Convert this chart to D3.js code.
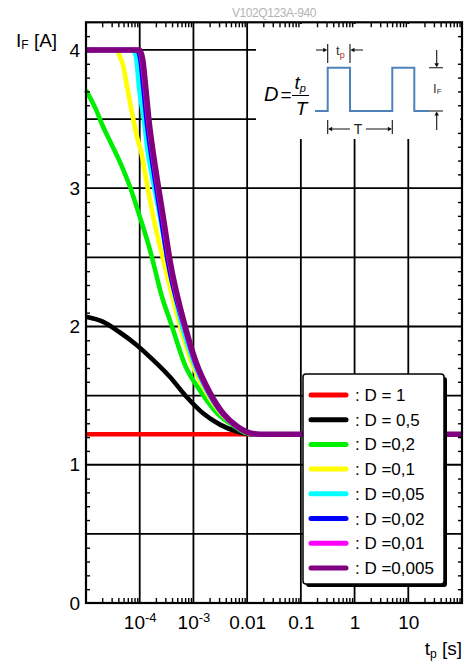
<!DOCTYPE html>
<html><head><meta charset="utf-8">
<script src="https://cdn.jsdelivr.net/npm/d3@7/dist/d3.min.js"></script>
<style>
body{margin:0;background:#fff}
svg{display:block}
text{font-family:"Liberation Sans",Arial,Helvetica,sans-serif}
</style>
</head><body>
<svg id="c" width="474" height="669"></svg>
<script>
// ---------------- data ----------------
const seriesLabels = [": D = 1", ": D = 0,5", ": D =0,2", ": D =0,1", ": D =0,05", ": D =0,02", ": D =0,01", ": D =0,005"];
const seriesColors = ["#ff0000", "#000000", "#00ee00", "#ffff00", "#00ffff", "#0000ff", "#ff00ff", "#800080"];

const tp_D1 = [1e-5, 100];
const if_D1 = [1.22, 1.22];

const tp_D05 = [1e-5, 2.05e-5, 4.17e-5, 8.53e-5, 1.75e-4, 3.56e-4, 7.5e-4, 1.53e-3, 3.13e-3, 6.4e-3, 9.84e-3, 1.74e-2, 100];
const if_D05 = [2.07, 2.035, 1.96, 1.87, 1.76, 1.64, 1.49, 1.37, 1.29, 1.24, 1.225, 1.22, 1.22];

const tp_D02 = [1e-5, 1.53e-5, 2.05e-5, 2.72e-5, 4.17e-5, 6.59e-5, 1.01e-4, 1.56e-4, 1.93e-4, 2.49e-4, 3.99e-4, 6.98e-4, 1.42e-3, 2.81e-3, 5.7e-3, 9.55e-3, 1.74e-2, 100];
const if_D02 = [3.71, 3.57, 3.45, 3.35, 3.20, 3.01, 2.79, 2.55, 2.41, 2.24, 2.00, 1.72, 1.52, 1.37, 1.28, 1.23, 1.22, 1.22];

const tp_D01 = [1e-5, 3.78e-5, 4.17e-5, 4.82e-5, 5.98e-5, 7.41e-5, 9.18e-5, 1.04e-4, 1.35e-4, 1.79e-4, 2.75e-4, 5.87e-4, 9.42e-4, 1.75e-3, 3.27e-3, 6.08e-3, 1.04e-2, 1.74e-2, 100];
const if_D01 = [4, 4, 3.96, 3.90, 3.71, 3.52, 3.35, 3.28, 3.04, 2.79, 2.48, 1.98, 1.73, 1.52, 1.37, 1.28, 1.23, 1.22, 1.22];

const tp_D005 = [1e-5, 7.5e-5, 8.53e-5, 9.84e-5, 1.22e-4, 1.39e-4, 1.79e-4, 2.39e-4, 3.32e-4, 6.4e-4, 1.03e-3, 1.87e-3, 3.41e-3, 6.21e-3, 1.08e-2, 1.74e-2, 100];
const if_D005 = [4, 4, 3.95, 3.71, 3.47, 3.28, 3.04, 2.79, 2.48, 1.98, 1.73, 1.52, 1.37, 1.28, 1.23, 1.22, 1.22];

const tp_D002 = [1e-5, 8.9e-5, 1.03e-4, 1.18e-4, 1.36e-4, 1.58e-4, 1.96e-4, 2.48e-4, 3.3e-4, 6.97e-4, 1.10e-3, 1.95e-3, 3.45e-3, 6.13e-3, 1.09e-2, 1.74e-2, 100];
const if_D002 = [4, 4, 3.93, 3.71, 3.47, 3.28, 3.04, 2.79, 2.48, 1.98, 1.73, 1.52, 1.37, 1.28, 1.23, 1.22, 1.22];

const tp_D001 = [1e-5, 9.6e-5, 1.09e-4, 1.26e-4, 1.45e-4, 1.68e-4, 2.08e-4, 2.64e-4, 3.51e-4, 6.99e-4, 1.10e-3, 1.96e-3, 3.47e-3, 6.14e-3, 1.08e-2, 1.74e-2, 100];
const if_D001 = [4, 4, 3.93, 3.71, 3.47, 3.28, 3.04, 2.79, 2.48, 1.98, 1.73, 1.52, 1.37, 1.28, 1.23, 1.22, 1.22];

const tp_D0005 = [1e-5, 1e-4, 1.14e-4, 1.31e-4, 1.51e-4, 1.75e-4, 2.17e-4, 2.75e-4, 3.66e-4, 7.28e-4, 1.15e-3, 2.04e-3, 3.61e-3, 6.4e-3, 1.13e-2, 1.74e-2, 100];
const if_D0005 = [4, 4, 3.93, 3.71, 3.47, 3.28, 3.04, 2.79, 2.48, 1.98, 1.73, 1.52, 1.37, 1.28, 1.23, 1.22, 1.22];

const xMajorTicks = [1e-4, 1e-3, 1e-2, 0.1, 1, 10];
const xTickLabels = [["10", "-4"], ["10", "-3"], ["0.01", ""], ["0.1", ""], ["1", ""], ["10", ""]];
const yLabelTicks = [0, 1, 2, 3, 4];
const yGridTicks = [0.5, 1, 1.5, 2, 2.5, 3, 3.5, 4];

// ---------------- layout ----------------
const L = 86, R = 462, T = 22.3, B = 603;
const svg = d3.select("#c");
const x = d3.scaleLog().domain([1e-5, 100]).range([L, R]);
const y = d3.scaleLinear().domain([0, 4.2]).range([B, T]);

const series = [
  [tp_D1, if_D1], [tp_D05, if_D05], [tp_D02, if_D02], [tp_D01, if_D01],
  [tp_D005, if_D005], [tp_D002, if_D002], [tp_D001, if_D001], [tp_D0005, if_D0005]
].map((s, i) => ({label: seriesLabels[i], color: seriesColors[i], pts: s[0].map((t, j) => [t, s[1][j]])}));

// title
svg.append("text").attr("x", 274).attr("y", 17).attr("text-anchor", "middle")
  .attr("font-size", 12).attr("fill", "#b4b4b4").attr("letter-spacing", -0.4).text("V102Q123A-940");

// gridlines
const minorX = [];
for (let e = -5; e < 2; e++) for (let k = 2; k <= 9; k++) minorX.push(k * Math.pow(10, e));
const minorY = d3.range(1, 42).map(v => v / 10).filter(v => Math.abs(v * 2 - Math.round(v * 2)) > 1e-6);

const grid = svg.append("g").attr("stroke", "#000").attr("stroke-width", 1.8);
grid.selectAll("line.v").data(xMajorTicks).join("line").attr("class", "v")
  .attr("x1", d => x(d)).attr("x2", d => x(d)).attr("y1", T).attr("y2", B);
grid.selectAll("line.h").data(yGridTicks).join("line").attr("class", "h")
  .attr("x1", L).attr("x2", R).attr("y1", d => y(d)).attr("y2", d => y(d));

// inset (pulse diagram)
const ins = svg.append("g");
ins.append("rect").attr("x", 256).attr("y", 24).attr("width", 204).attr("height", 115).attr("fill", "#fff");
ins.append("path").attr("fill", "none").attr("stroke", "#4f81bd").attr("stroke-width", 2)
  .attr("d", "M315,111H327.7V67.7H350V111H392.3V67.7H414.3V111H429");
const ann = ins.append("g").attr("stroke", "#111").attr("stroke-width", 1.1).attr("fill", "none");
const arrowHead = (xx, yy, dir) => {
  const s = 4, w = 2.3;
  let p;
  if (dir === 'r') p = `M${xx},${yy}L${xx - s},${yy - w}L${xx - s},${yy + w}Z`;
  if (dir === 'l') p = `M${xx},${yy}L${xx + s},${yy - w}L${xx + s},${yy + w}Z`;
  if (dir === 'd') p = `M${xx},${yy}L${xx - w},${yy - s}L${xx + w},${yy - s}Z`;
  if (dir === 'u') p = `M${xx},${yy}L${xx - w},${yy + s}L${xx + w},${yy + s}Z`;
  ins.append("path").attr("d", p).attr("fill", "#111");
};
// tp annotation
ann.append("path").attr("d", "M327.7,44V63M350,44V63M316,50H326M352,50H363");
arrowHead(327.2, 50, 'r'); arrowHead(350.5, 50, 'l');
const tpT = ins.append("text").attr("x", 336).attr("y", 55).attr("font-size", 13).attr("fill", "#333");
tpT.append("tspan").text("t");
tpT.append("tspan").attr("font-size", 9).attr("dy", 3).attr("fill", "#a33").text("p");
// T annotation
ann.append("path").attr("d", "M327.7,120V134M392.3,120V134M329,129H350M366,129H391");
arrowHead(328.2, 129, 'l'); arrowHead(391.8, 129, 'r');
ins.append("text").attr("x", 358).attr("y", 134).attr("text-anchor", "middle").attr("font-size", 14).attr("fill", "#222").text("T");
// IF annotation
ann.append("path").attr("d", "M429,67.7H443M429,111H443M436.7,50V66M436.7,113V130");
arrowHead(436.7, 67.2, 'd'); arrowHead(436.7, 111.5, 'u');
const ifT = ins.append("text").attr("x", 433).attr("y", 93).attr("font-size", 13).attr("fill", "#333");
ifT.append("tspan").text("I");
ifT.append("tspan").attr("font-size", 8).attr("dy", 1).text("F");
// formula
const serif = "'Liberation Serif','Times New Roman',serif";
ins.append("text").attr("x", 264).attr("y", 101).attr("font-family", serif).attr("font-style", "italic").attr("font-size", 20).text("D");
ins.append("text").attr("x", 280.5).attr("y", 101).attr("font-family", serif).attr("font-size", 19).text("=");
ins.append("line").attr("x1", 292).attr("x2", 309).attr("y1", 95.5).attr("y2", 95.5).attr("stroke", "#000").attr("stroke-width", 1);
const num = ins.append("text").attr("x", 294.5).attr("y", 89).attr("font-family", serif).attr("font-style", "italic").attr("font-size", 19);
num.append("tspan").text("t");
num.append("tspan").attr("font-size", 11).attr("dy", 3).text("p");
ins.append("text").attr("x", 301.5).attr("y", 115).attr("text-anchor", "middle").attr("font-family", serif).attr("font-style", "italic").attr("font-size", 19).text("T");

// curves
const line = d3.line().x(d => x(d[0])).y(d => y(d[1])).curve(d3.curveMonotoneX);
svg.append("g").selectAll("path").data(series).join("path")
  .attr("fill", "none").attr("stroke", d => d.color)
  .attr("stroke-width", (d, i) => i === 7 ? 5.5 : 4.6)
  .attr("stroke-linejoin", "round")
  .attr("d", d => line(d.pts));

// frame
svg.append("rect").attr("x", L).attr("y", T).attr("width", R - L).attr("height", B - T)
  .attr("fill", "none").attr("stroke", "#000").attr("stroke-width", 2.2);

// minor ticks via d3 axes
const tickStyle = g => { g.select(".domain").remove(); g.selectAll("line").attr("stroke", "#000").attr("stroke-width", 1.4); };
svg.append("g").attr("transform", `translate(0,${B})`).call(d3.axisBottom(x).tickValues(minorX).tickSize(-5).tickFormat("")).call(tickStyle);
svg.append("g").attr("transform", `translate(0,${T})`).call(d3.axisTop(x).tickValues(minorX).tickSize(-5).tickFormat("")).call(tickStyle);
svg.append("g").attr("transform", `translate(${L},0)`).call(d3.axisLeft(y).tickValues(minorY).tickSize(-4).tickFormat("")).call(tickStyle);
svg.append("g").attr("transform", `translate(${R},0)`).call(d3.axisRight(y).tickValues(minorY).tickSize(-4).tickFormat("")).call(tickStyle);

// y labels
const yAx = svg.append("g").attr("transform", `translate(${L},0)`)
  .call(d3.axisLeft(y).tickValues(yLabelTicks).tickSize(0).tickPadding(6).tickFormat(d3.format("d")));
yAx.select(".domain").remove();
yAx.selectAll("text").attr("font-size", 19).attr("font-family", null).attr("fill", "#000");

// x labels
const xAx = svg.append("g").attr("transform", `translate(0,${B})`)
  .call(d3.axisBottom(x).tickValues(xMajorTicks).tickSize(0).tickFormat(""));
xAx.select(".domain").remove();
xAx.selectAll(".tick text").each(function (d, i) {
  const t = d3.select(this).attr("y", 26).attr("dy", null).attr("font-size", 19).attr("font-family", null).attr("fill", "#000");
  t.append("tspan").text(xTickLabels[i][0]);
  if (xTickLabels[i][1]) t.append("tspan").attr("font-size", 13).attr("dy", -7).text(xTickLabels[i][1]);
});

// axis titles
const yt = svg.append("text").attr("x", 16).attr("y", 47).attr("font-size", 19);
yt.append("tspan").text("I");
yt.append("tspan").attr("font-size", 12).attr("dy", 2).text("F");
yt.append("tspan").attr("dy", -2).text(" [A]");
const xt = svg.append("text").attr("x", 462).attr("y", 655).attr("text-anchor", "end").attr("font-size", 19);
xt.append("tspan").text("t");
xt.append("tspan").attr("font-size", 12).attr("dy", 3).text("p");
xt.append("tspan").attr("dy", -3).text(" [s]");

// legend
const lg = svg.append("g");
lg.append("rect").attr("x", 306).attr("y", 377).attr("width", 141).attr("height", 210).attr("rx", 3).attr("fill", "#000");
lg.append("rect").attr("x", 303).attr("y", 374).attr("width", 141).attr("height", 210).attr("rx", 3)
  .attr("fill", "#fff").attr("stroke", "#000").attr("stroke-width", 1.5);
const rows = lg.selectAll("g.row").data(series).join("g").attr("class", "row")
  .attr("transform", (d, i) => `translate(0,${395 + i * 24.7})`);
rows.append("line").attr("x1", 311).attr("x2", 346).attr("stroke", d => d.color)
  .attr("stroke-width", 5).attr("stroke-linecap", "round");
rows.append("text").attr("x", 355).attr("y", 6).attr("font-size", 17).text(d => d.label);
</script>
</body></html>
